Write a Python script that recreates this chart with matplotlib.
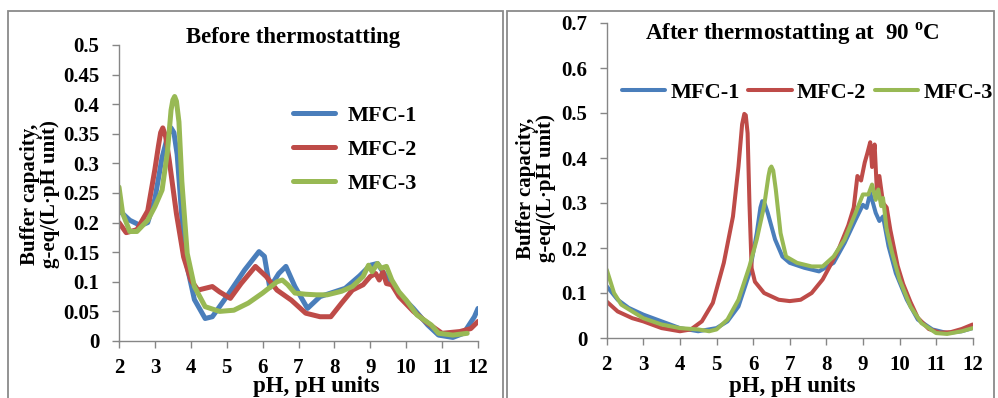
import matplotlib
matplotlib.use("Agg")
import matplotlib.pyplot as plt
from matplotlib.patches import Rectangle

plt.rcParams['font.family'] = ['Liberation Serif', 'DejaVu Serif']
plt.rcParams['font.weight'] = 'bold'
plt.rcParams['mathtext.fontset'] = 'custom'
plt.rcParams['mathtext.rm'] = 'Liberation Serif:bold'
plt.rcParams['mathtext.bf'] = 'Liberation Serif:bold'

# ---------------- data: before thermostatting ----------------
b1_ph = [2.0, 2.3, 2.6, 2.8, 3.0, 3.2, 3.35, 3.45, 3.53, 3.62, 3.75, 3.9, 4.1, 4.4, 4.6, 5.0, 5.5,
         5.9, 6.05, 6.2, 6.45, 6.65, 6.9, 7.25, 7.6, 8.0, 8.3, 8.7, 9.0, 9.2, 9.5, 9.8, 10.2, 10.6,
         10.9, 11.3, 11.6, 11.9, 12.0]
b1_v = [0.221, 0.204, 0.195, 0.200, 0.240, 0.310, 0.345, 0.360, 0.352, 0.315, 0.210, 0.125, 0.070,
        0.038, 0.041, 0.075, 0.120, 0.151, 0.143, 0.090, 0.114, 0.126, 0.092, 0.055, 0.075, 0.083,
        0.089, 0.110, 0.128, 0.131, 0.103, 0.080, 0.055, 0.027, 0.010, 0.006, 0.013, 0.041, 0.055]

b2_ph = [2.0, 2.2, 2.5, 2.8, 3.0, 3.1, 3.16, 3.22, 3.3, 3.4, 3.6, 3.8, 4.0, 4.2, 4.6, 4.8, 5.1,
         5.4, 5.8, 6.1, 6.4, 6.8, 7.2, 7.6, 7.9, 8.2, 8.5, 8.8, 9.0, 9.15, 9.25, 9.35, 9.45, 9.6,
         9.8, 10.2, 10.6, 11.0, 11.5, 11.8, 12.0]
b2_v = [0.200, 0.183, 0.188, 0.220, 0.290, 0.330, 0.352, 0.360, 0.345, 0.305, 0.215, 0.142, 0.103,
        0.086, 0.092, 0.083, 0.072, 0.097, 0.126, 0.109, 0.086, 0.069, 0.047, 0.041, 0.041, 0.064,
        0.086, 0.095, 0.109, 0.114, 0.103, 0.117, 0.097, 0.095, 0.075, 0.050, 0.030, 0.013, 0.016,
        0.021, 0.033]

b3_ph = [2.0, 2.1, 2.3, 2.5, 2.8, 3.0, 3.2, 3.35, 3.45, 3.5, 3.55, 3.6, 3.67, 3.75, 3.9, 4.1, 4.4,
         4.8, 5.2, 5.6, 6.0, 6.4, 6.55, 6.7, 6.9, 7.2, 7.5, 7.8, 8.2, 8.5, 8.8, 8.95, 9.05, 9.2,
         9.3, 9.45, 9.6, 9.8, 10.0, 10.3, 10.7, 10.9, 11.3, 11.7]
b3_v = [0.260, 0.216, 0.185, 0.185, 0.204, 0.227, 0.255, 0.320, 0.390, 0.407, 0.413, 0.405, 0.370,
        0.270, 0.148, 0.092, 0.058, 0.050, 0.052, 0.064, 0.081, 0.100, 0.103, 0.095, 0.081, 0.079,
        0.078, 0.078, 0.084, 0.092, 0.109, 0.128, 0.117, 0.131, 0.123, 0.126, 0.103, 0.083, 0.069,
        0.044, 0.027, 0.013, 0.010, 0.013]

# ---------------- data: after thermostatting at 90 C ----------------
a1_ph = [2.0, 2.3, 2.6, 3.0, 3.5, 4.0, 4.5, 5.0, 5.3, 5.6, 5.9, 6.1, 6.2, 6.25, 6.32, 6.4, 6.6,
         6.8, 7.0, 7.4, 7.8, 8.2, 8.5, 8.8, 9.0, 9.1, 9.2, 9.35, 9.45, 9.55, 9.7, 9.9, 10.2, 10.5,
         10.9, 11.3, 11.7, 12.0]
a1_v = [0.115, 0.085, 0.067, 0.052, 0.037, 0.022, 0.015, 0.022, 0.037, 0.070, 0.144, 0.233, 0.290,
        0.304, 0.298, 0.278, 0.219, 0.181, 0.167, 0.156, 0.148, 0.167, 0.211, 0.263, 0.296, 0.289,
        0.322, 0.278, 0.260, 0.270, 0.204, 0.144, 0.085, 0.041, 0.019, 0.011, 0.015, 0.022]

a2_ph = [2.0, 2.3, 2.7, 3.0, 3.5, 4.0, 4.3, 4.6, 4.9, 5.2, 5.45, 5.6, 5.7, 5.76, 5.8, 5.85, 5.9,
         5.96, 6.05, 6.3, 6.7, 7.0, 7.3, 7.6, 7.9, 8.1, 8.35, 8.6, 8.75, 8.85, 8.95, 9.05, 9.12,
         9.2, 9.25, 9.32, 9.38, 9.45, 9.55, 9.65, 9.75, 9.85, 9.95, 10.1, 10.3, 10.5, 10.8, 11.1,
         11.4, 11.7, 12.0]
a2_v = [0.081, 0.059, 0.044, 0.037, 0.022, 0.015, 0.019, 0.037, 0.078, 0.167, 0.270, 0.381, 0.475,
        0.498, 0.495, 0.455, 0.300, 0.155, 0.125, 0.100, 0.085, 0.082, 0.085, 0.100, 0.130, 0.160,
        0.200, 0.250, 0.290, 0.360, 0.350, 0.390, 0.410, 0.435, 0.380, 0.430, 0.330, 0.360, 0.300,
        0.290, 0.240, 0.200, 0.160, 0.120, 0.080, 0.045, 0.020, 0.012, 0.013, 0.020, 0.030]

a3_ph = [2.0, 2.2, 2.4, 3.0, 3.5, 4.0, 4.5, 4.8, 5.0, 5.3, 5.6, 5.9, 6.1, 6.3, 6.42, 6.46, 6.5,
         6.55, 6.62, 6.75, 6.9, 7.2, 7.6, 7.9, 8.2, 8.5, 8.8, 9.0, 9.15, 9.25, 9.35, 9.42, 9.5,
         9.55, 9.65, 9.8, 10.0, 10.3, 10.6, 11.0, 11.3, 11.7, 12.0]
a3_v = [0.152, 0.100, 0.074, 0.044, 0.030, 0.022, 0.019, 0.015, 0.019, 0.041, 0.085, 0.159, 0.219,
        0.293, 0.360, 0.376, 0.381, 0.372, 0.330, 0.233, 0.181, 0.167, 0.159, 0.159, 0.181, 0.219,
        0.278, 0.319, 0.319, 0.341, 0.307, 0.330, 0.293, 0.311, 0.241, 0.189, 0.130, 0.070, 0.033,
        0.011, 0.009, 0.015, 0.022]

labels = ['MFC-1', 'MFC-2', 'MFC-3']
colors = ['#4A7EBB', '#BE4B48', '#98B954']
x_ticks = list(range(2, 13))
left_yticks = [0, 0.05, 0.1, 0.15, 0.2, 0.25, 0.3, 0.35, 0.4, 0.45, 0.5]
left_yticklabels = ['0', '0.05', '0.1', '0.15', '0.2', '0.25', '0.3', '0.35', '0.4', '0.45', '0.5']
right_yticks = [0, 0.1, 0.2, 0.3, 0.4, 0.5, 0.6, 0.7]
right_yticklabels = ['0', '0.1', '0.2', '0.3', '0.4', '0.5', '0.6', '0.7']

W, H = 998, 398
fig = plt.figure(figsize=(W / 100, H / 100), dpi=100)

# panel frames
border = '#8a8a8a'
fig.patches.append(Rectangle((8 / W, -0.1), (503 - 8) / W, 1 - 11 / H + 0.1,
                             transform=fig.transFigure, fill=False, ec=border, lw=1.3))
fig.patches.append(Rectangle((507 / W, -0.1), (994 - 507) / W, 1 - 11 / H + 0.1,
                             transform=fig.transFigure, fill=False, ec=border, lw=1.3))

def fpos(x0, x1, ytop, ybot):
    return [x0 / W, 1 - ybot / H, (x1 - x0) / W, (ybot - ytop) / H]

axL = fig.add_axes(fpos(119, 478, 45, 341))
axR = fig.add_axes(fpos(606.7, 972.7, 23, 338))

def style(ax, yticks, yticklabels, ymax):
    ax.set_xlim(2, 12)
    ax.set_ylim(0, ymax)
    ax.set_xticks(x_ticks)
    ax.set_xticklabels([str(t) for t in x_ticks])
    ax.set_yticks(yticks)
    ax.set_yticklabels(yticklabels)
    for s in ['top', 'right']:
        ax.spines[s].set_visible(False)
    for s in ['left', 'bottom']:
        ax.spines[s].set_color('#868686')
        ax.spines[s].set_linewidth(1.0)
    ax.tick_params(axis='both', direction='out', length=5, width=1.0, color='#868686',
                   labelsize=15)
    ax.tick_params(axis='y', pad=9)
    ax.tick_params(axis='x', pad=7)
    for lab in ax.get_xticklabels() + ax.get_yticklabels():
        lab.set_fontweight('bold')
    ax.patch.set_alpha(0)

style(axL, left_yticks, left_yticklabels, 0.5)
style(axR, right_yticks, right_yticklabels, 0.7)

for ph, v, c, lab in zip([b1_ph, b2_ph, b3_ph], [b1_v, b2_v, b3_v], colors, labels):
    axL.plot(ph, v, color=c, lw=3.6, label=lab, solid_joinstyle='round', solid_capstyle='round')
for ph, v, c, lab in zip([a1_ph, a2_ph, a3_ph], [a1_v, a2_v, a3_v], colors, labels):
    axR.plot(ph, v, color=c, lw=2.9, label=lab, solid_joinstyle='round', solid_capstyle='round')

axL.legend(loc='upper left', bbox_to_anchor=(293 / W, 1 - 105 / H), bbox_transform=fig.transFigure,
           frameon=False, prop={'family': 'Liberation Serif', 'weight': 'bold', 'size': 16},
           handlelength=1.9, handletextpad=0.55, labelspacing=0.62, borderpad=0, borderaxespad=0)
axR.legend(loc='upper left', bbox_to_anchor=(622 / W, 1 - 82 / H), bbox_transform=fig.transFigure,
           frameon=False, ncol=3, prop={'family': 'Liberation Serif', 'weight': 'bold', 'size': 16},
           handlelength=1.95, handletextpad=0.22, columnspacing=0.4, borderpad=0, borderaxespad=0)

# titles
fig.text(293 / W, 1 - 43 / H, 'Before thermostatting', ha='center', va='baseline',
         fontsize=16.4, fontweight='bold')
fig.text(645 / W, 1 - 40 / H, r'After thermostatting at  90 $^{\mathrm{o}}$C', ha='left', va='baseline',
         fontsize=16.6, fontweight='bold')

# axis labels
fig.text(316 / W, 1 - 392 / H, 'pH, pH units', ha='center', va='baseline', fontsize=16.5, fontweight='bold')
fig.text(792 / W, 1 - 392 / H, 'pH, pH units', ha='center', va='baseline', fontsize=16.5, fontweight='bold')
fig.text(40 / W, 1 - 194 / H, 'Buffer capacity,\ng-eq/(L·pH unit)', rotation=90, ha='center', va='center',
         fontsize=15, fontweight='bold', linespacing=1.0)
fig.text(536 / W, 1 - 188 / H, 'Buffer capacity,\ng-eq/(L·pH unit)', rotation=90, ha='center', va='center',
         fontsize=15, fontweight='bold', linespacing=1.0)

fig.savefig('out.png', dpi=100)
